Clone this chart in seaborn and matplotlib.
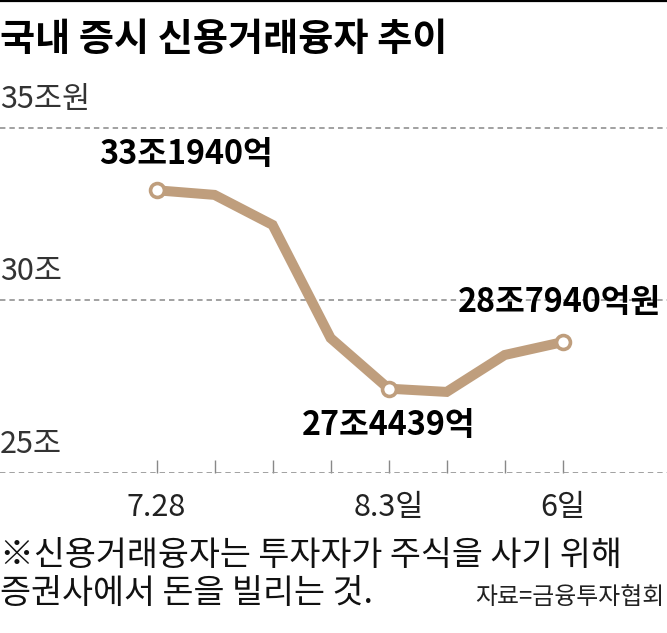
import numpy as np
import pandas as pd
import matplotlib.pyplot as plt
import seaborn as sns

# Data (조원)
dates = ["7.28", "7.29", "7.30", "8.2", "8.3", "8.4", "8.5", "8.6"]
tick_labels = ["7.28", "", "", "", "8.3일", "", "", "6일"]
credit_loans = [33.194, 33.06, 32.19, 28.91, 27.4439, 27.35, 28.42, 28.794]
marked = [0, 4, 7]
marked_labels = ["33조1940억", "27조4439억", "28조7940억원"]
y_ticks = [25, 30, 35]
y_tick_labels = ["25조", "30조", "35조원"]

LINE_COLOR = "#BF9E7D"
FONTS = ["Noto Sans CJK KR", "DejaVu Sans"]

sns.set_theme(style="white")
plt.rcParams["font.family"] = FONTS

df = pd.DataFrame({"pos": np.arange(len(dates)), "date": dates, "value": credit_loans})

fig = plt.figure(figsize=(6.67, 6.33), dpi=100)
ax = fig.add_axes([0, 1 - 473 / 633, 1, (473 - 90) / 633])

sns.lineplot(data=df, x="pos", y="value", ax=ax, color=LINE_COLOR, linewidth=7.2,
             solid_joinstyle="miter", solid_capstyle="butt")
ax.plot(df["pos"].iloc[marked], df["value"].iloc[marked], "o", ms=10,
        mfc="white", mec=LINE_COLOR, mew=2.6, zorder=5)

ax.set_xlim(-2.697, 8.797)
ax.set_ylim(25, 36.10)

# dashed grid lines + y labels written above them
for v, lab in zip(y_ticks, y_tick_labels):
    ax.axhline(v, color="#9a9a9a", lw=1.3, ls=(0, (3, 2.2)), zorder=1)
    ax.annotate(lab, xy=(0, v), xycoords=("axes fraction", "data"),
                xytext=(0, 13), textcoords="offset pixels",
                ha="left", va="bottom", fontsize=22, color="#333333")

ax.set_yticks([])
ax.set_xticks(df["pos"])
ax.set_xticklabels(tick_labels, fontsize=22, color="#222222")
ax.tick_params(axis="x", direction="in", length=9.5, width=1.0, color="#888888",
               pad=14, bottom=True)
ax.set_xlabel("")
ax.set_ylabel("")
for s in ax.spines.values():
    s.set_visible(False)

# value annotations
offsets = [(30, 36), (0, -37), (-3, 40)]
for i, lab, off in zip(marked, marked_labels, offsets):
    ax.annotate(lab, xy=(df["pos"][i], df["value"][i]), xytext=off,
                textcoords="offset pixels", ha="center", va="center",
                fontsize=23.3, fontweight="bold", color="black")

# title, top rule, notes
fig.add_artist(plt.Line2D([0, 1], [1 - 1 / 633, 1 - 1 / 633], color="black",
                          lw=1.6, transform=fig.transFigure))
fig.text(0.0, 1 - 40 / 633, "국내 증시 신용거래융자 추이", ha="left", va="center",
         fontsize=27.5, fontweight="bold", color="black")
fig.text(0.0, 1 - 555 / 633, "※신용거래융자는 투자자가 주식을 사기 위해",
         ha="left", va="center", fontsize=24.3, color="#111111")
fig.text(0.0, 1 - 593 / 633, "증권사에서 돈을 빌리는 것.",
         ha="left", va="center", fontsize=24.3, color="#111111")
fig.text(664 / 667, 1 - 598 / 633, "자료=금융투자협회", ha="right", va="center",
         fontsize=17.2, color="#222222")

fig.savefig("out.png", dpi=100)
